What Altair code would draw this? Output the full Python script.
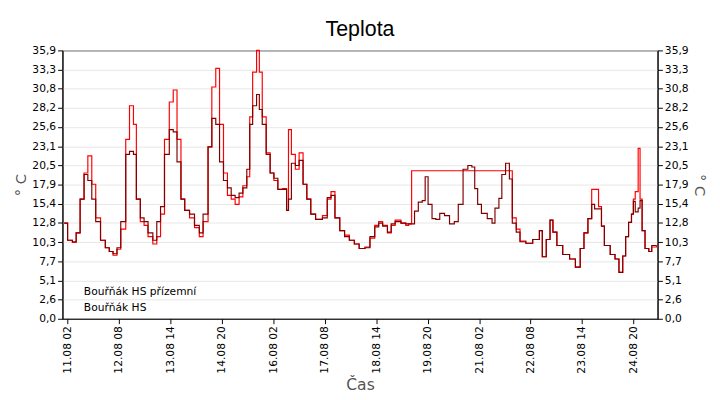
import altair as alt
import pandas as pd

# hours since 11.08 00:00
hours = [0, 2, 4.8, 7, 9.3, 11.6, 13.8, 16.1, 18.4, 21.2, 24, 26.3, 28.5, 30.8, 33, 35.9, 38.1, 40.4,
         42.1, 44.4, 46.6, 48.9, 51.7, 54, 56.2, 58.5, 61.3, 63.6, 65.8, 68.1, 70.3, 73.1, 76, 78.8,
         81, 83.9, 86.1, 88.4, 90.6, 92.9, 95.2, 97.4, 99.7, 102, 104.2, 106.5, 108.2, 109.9, 112.2,
         113.8, 115.5, 117.8, 120.1, 122.3, 124.6, 127.4, 129.7, 130.8, 132.5, 134.8, 137, 139.3,
         141.5, 143.8, 146.6, 150.6, 153.4, 155.6, 157.9, 160.7, 163.5, 166.3, 169.2, 172, 175.4,
         178.3, 181.1, 183.4, 185.7, 188.5, 190.7, 193, 196.4, 199.2, 200.9, 202.6, 204.3, 206.5,
         208.8, 210.5, 212.2, 214.5, 216.7, 219, 221.8, 224.7, 227.5, 229.8, 232.6, 235.4, 237.7,
         239.4, 241.1, 243.3, 246.7, 249.5, 251.2, 253.5, 255.2, 257.4, 259.6, 261.3, 263.6, 265.8,
         269.2, 273.2, 275.4, 277.1, 278.8, 281.1, 283.3, 285, 287.3, 290.7, 294.7, 298.1, 300.9,
         303.1, 305.4, 307.6, 309.3, 311.6, 313.3, 315, 318.4, 321.2, 323.5, 325.7, 327.4, 329.1,
         330.8, 331.9, 333, 334.7, 335.8, 337, 338.7, 340.9, 342.6, 345.5]

hs = [12.8, 10.5, 10.3, 11.5, 16, 19.3, 18.5, 16, 13, 10.5, 9.5, 9, 8.7, 9.5, 13, 22, 22.4, 22,
      16, 13.5, 13, 11.5, 10.5, 13, 15, 22, 25.3, 25, 21, 16, 14.5, 14, 12.5, 11.5,
      14, 23, 26.8, 26, 21, 18.5, 17.5, 16.5, 16.2, 16.8, 17.5, 20, 26, 28.5, 30,
      28, 26, 22, 19.5, 18.8, 17.3, 17.3, 14.5, 16, 20.8, 20.5, 21.2, 18,
      16, 14, 13.3, 13.5, 16.2, 16.5, 13.5, 11.8, 11, 10.5, 10, 9.4, 9.5,
      11, 12.3, 12.8, 12.4, 11.6, 12.7, 13, 12.8, 12.7, 12.7, 12.7, 14.4, 15.6,
      15.8, 19, 15.3, 13.4, 13.3, 14.1, 13.8, 12.7, 13, 15.3, 20, 20.5, 20.3,
      17.4, 15.3, 14.1, 13.4, 12.8, 14.8, 16.1, 19.3, 20.8, 18.7, 12.8, 11.6, 10.3,
      10.1, 10.6, 10.6, 11.8, 8.3, 10.6, 13.2, 11.6, 9.8, 8.6, 8, 6.9, 9.4,
      11.5, 13.4, 15.3, 14.7, 14.7, 12.4, 9.8, 8.6, 8, 6.2, 8.4, 11, 12.9,
      14, 15.7, 14.3, 14.8, 15.8, 11.8, 9.4, 9, 9.8, 9.8]

prizemni = [12.8, 10.5, 10.2, 11.5, 16, 19.5, 21.8, 18, 13.5, 10.5, 9.5, 9, 8.5, 9.3, 12, 24, 28.5, 26,
            16, 13, 12.5, 11, 10, 11, 14, 24, 29, 30.6, 24, 16, 14.5, 13.5, 12.2, 11,
            13, 23, 31, 33.5, 26, 19.5, 16.5, 16, 15.3, 16.3, 17.8, 19, 27, 33, 35.9,
            33, 27, 22.2, 19.5, 18.5, 17.3, 17.4, 14.5, 25.3, 22, 20, 22.2, 18,
            16, 14, 13.3, 13.8, 16, 17, 13.5, 11.8, 11.2, 10.5, 10, 9.4, 9.6,
            10.8, 12.5, 13, 12.5, 11.5, 12.5, 13.2, 12.8, 12.5, 12.7, 19.8, 19.8, 19.8,
            19.8, 19.8, 19.8, 19.8, 19.8, 19.8, 19.8, 19.8, 19.8, 19.8, 19.8, 19.8, 19.8,
            19.8, 19.8, 19.8, 19.8, 19.8, 19.8, 19.8, 19.8, 19.8, 19.8, 13.5, 12, 10.4,
            10.1, 10.6, 10.6, 11.8, 8.3, 10.6, 13.2, 11.6, 9.8, 8.6, 8, 6.9, 9.4,
            11.5, 13.4, 17.3, 17.3, 15, 12.4, 9.8, 8.6, 8, 6.2, 8.4, 11, 12.9,
            14, 16, 17, 22.8, 16, 11.8, 9.4, 9, 9.6, 9.8]

series = ["Bouřňák HS přízemní", "Bouřňák HS"]
y_ticks = [round(i * 35.9 / 14, 3) for i in range(15)]

base = pd.Timestamp("2008-08-11 00:00")
times = [(base + pd.Timedelta(hours=h)).strftime("%Y-%m-%dT%H:%M:%S") for h in hours]
x_ticks = [(base + pd.Timedelta(hours=2 + 30 * i)).strftime("%Y-%m-%dT%H:%M:%S") for i in range(12)]

df = pd.concat([
    pd.DataFrame({"t": times, "v": prizemni, "s": series[0], "o": 0}),
    pd.DataFrame({"t": times, "v": hs, "s": series[1], "o": 1}),
])

x_dom = [alt.DateTime(year=2008, month=8, date=10, hours=23),
         alt.DateTime(year=2008, month=8, date=25, hours=10)]
y_scale = alt.Scale(domain=[0, 35.9], nice=False, zero=False)
label_expr = "replace(format(datum.value, '.1f'), '.', ',')"

x = alt.X("t:T", title="Čas", scale=alt.Scale(domain=x_dom),
          axis=alt.Axis(values=x_ticks, format="%d.%m %H", labelAngle=-90, grid=False,
                        labelFontSize=11, titleFontSize=16, titleFontWeight="normal",
                        titleColor="#555", tickColor="black", domainColor="black"))

lines = alt.Chart(df).mark_line(interpolate="step-after", strokeWidth=1.2).encode(
    x=x,
    y=alt.Y("v:Q", scale=y_scale,
            axis=alt.Axis(values=y_ticks, labelExpr=label_expr, title="° C", orient="left",
                          gridColor="#e6e6e6", titleFontSize=15, titleFontWeight="normal",
                          titleColor="#555", labelFontSize=11, tickColor="black",
                          domainColor="black")),
    color=alt.Color("s:N", sort=series,
                    scale=alt.Scale(domain=series, range=["#ff0000", "#800000"]),
                    legend=alt.Legend(title=None, orient="bottom-left", symbolType="square",
                                      symbolSize=180, symbolStrokeWidth=0, labelFontSize=11,
                                      offset=4, rowPadding=2)),
    order=alt.Order("o:Q"),
)

right = alt.Chart(df).mark_line(opacity=0).encode(
    x=x,
    y=alt.Y("v:Q", scale=y_scale,
            axis=alt.Axis(values=y_ticks, labelExpr=label_expr, title="° C", orient="right",
                          grid=False, titleFontSize=15, titleFontWeight="normal",
                          titleColor="#555", labelFontSize=11, tickColor="black",
                          domainColor="black")),
)

chart = alt.layer(lines, right).resolve_scale(y="independent").properties(
    width=612, height=276,
    title=alt.Title("Teplota", fontSize=22, fontWeight="normal", font="Liberation Sans"),
).configure(font="DejaVu Sans").configure_view(stroke="black")

chart.save("out.html", embed_options={"renderer": "svg", "actions": False})
